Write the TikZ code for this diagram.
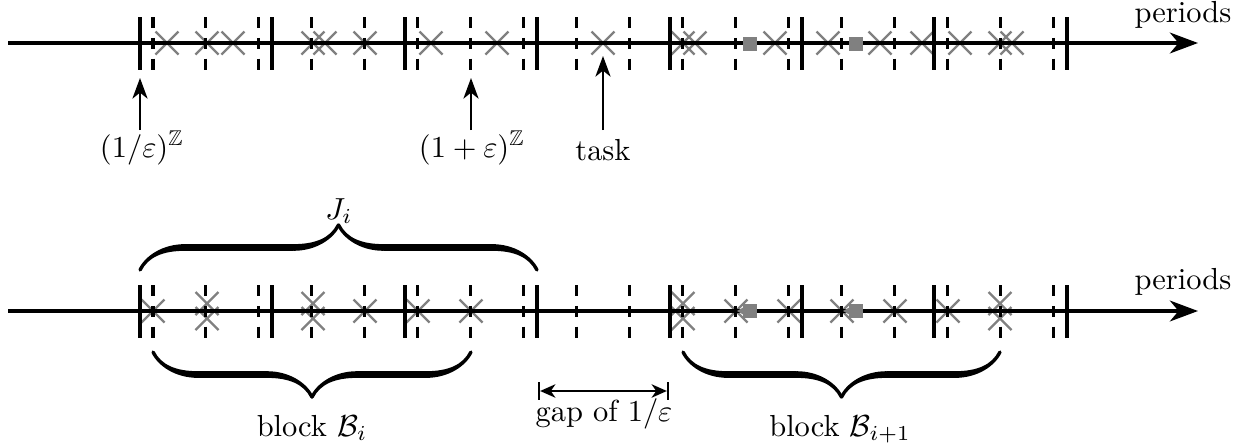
\documentclass[tikz,border=0pt]{standalone}
\usepackage{amssymb}
\usetikzlibrary{arrows.meta,decorations.pathreplacing,calligraphy}
\definecolor{taskgray}{gray}{0.5}
\tikzset{
  taskx/.pic={\draw[taskmark] (-11.5,-11.5) -- (11.5,11.5) (-11.5,11.5) -- (11.5,-11.5);},
}
\begin{document}
\begin{tikzpicture}[x=0.3284pt,y=-0.3284pt,
  axisline/.style={line width=1.3pt,-{Stealth[length=9.2pt,width=6.8pt,inset=2.8pt]}},
  solidtick/.style={line width=1.3pt},
  dashtick/.style={line width=1pt,dash pattern=on 3.6pt off 3.25pt},
  taskmark/.style={draw=taskgray,line width=0.8pt},
  sqmark/.style={fill=taskgray},
  movearrow/.style={draw=taskgray,line width=1pt,-{Stealth[length=3.2pt,width=3.6pt,inset=0.8pt]}},
  labelarrow/.style={line width=0.7pt,-{Stealth[length=6.8pt,width=5pt,inset=2pt]}},
  gaparrow/.style={line width=0.7pt,|<->|,>={Stealth[length=5pt,width=4.4pt,inset=1.5pt]}},
  bracedeco/.style={decorate,decoration={calligraphic brace,amplitude=14.8pt},line width=2.2pt},
]
\useasboundingbox (0,0) rectangle (1246,443);

% ---------- top row ----------
\foreach \cx in {167,207,233,313,325,365,431,497,603,683,695,775,828,880,922,960,1000,1012}
  \pic at (\cx,43) {taskx};
\coordinate (topL) at (8,43);
\coordinate (topR) at (1198,43);
\draw[axisline] (topL) -- (topR);
\foreach \k in {0,...,7}
  \draw[solidtick] ({140+132.4*\k},17) -- ++(0,53);
\foreach \k in {0,...,17}
  \draw[dashtick] ({153+52.95*\k},17) -- ++(0,53);
\fill[sqmark] (742.5,36.5) rectangle (756.5,50.5);
\fill[sqmark] (848.5,36.5) rectangle (862.5,50.5);
\node[anchor=base] (perA) at (1183,22) {periods};

\node[anchor=base] (epsinv) at (142,157) {$(1/\varepsilon)^{\mathbb{Z}}$};
\node[anchor=base] (epsone) at (472,157) {$(1+\varepsilon)^{\mathbb{Z}}$};
\node[anchor=base] (tasklbl) at (603,160) {task};
\coordinate (s1) at (140,130); \coordinate (t1) at (140,78);
\coordinate (s2) at (471,130); \coordinate (t2) at (471,78);
\coordinate (s3) at (603,130); \coordinate (t3) at (603,56);
\draw[labelarrow] (s1) -- (t1);
\draw[labelarrow] (s2) -- (t2);
\draw[labelarrow] (s3) -- (t3);

% ---------- bottom row ----------
\foreach \cx in {153,365,418,471,736,789,842,895,948}
  \pic at (\cx,311) {taskx};
\foreach \cx in {207,313,683,1000} {
  \pic at (\cx,303.5) {taskx};
  \pic at (\cx,318.5) {taskx};
}
\coordinate (botL) at (8,311);
\coordinate (botR) at (1198,311);
\draw[axisline] (botL) -- (botR);
\foreach \k in {0,...,7}
  \draw[solidtick] ({140+132.4*\k},285) -- ++(0,53);
\foreach \k in {0,...,17}
  \draw[dashtick] ({153+52.95*\k},285) -- ++(0,53);
\coordinate (sqA) at (749.5,311); \coordinate (sqAt) at (737,311);
\coordinate (sqB) at (855.5,311); \coordinate (sqBt) at (843,311);
\draw[movearrow] (sqA) -- (sqAt);
\draw[movearrow] (sqB) -- (sqBt);
\fill[sqmark] (742.5,304) rectangle (756.5,318);
\fill[sqmark] (848.5,304) rectangle (862.5,318);
\node[anchor=base] (perB) at (1183,289) {periods};

% braces
\coordinate (jL) at (140,270); \coordinate (jR) at (537,270);
\draw[bracedeco] (jL) -- (jR);
\node[anchor=base] (Jlbl) at (339,219) {$J_i$};
\coordinate (bL) at (153,352); \coordinate (bR) at (471,352);
\draw[bracedeco] (bR) -- (bL);
\node[anchor=base] (blkA) at (312,436) {block $\mathcal{B}_i$};
\coordinate (cL) at (683,352); \coordinate (cR) at (1000,352);
\draw[bracedeco] (cR) -- (cL);
\node[anchor=base] (blkB) at (840,436) {block $\mathcal{B}_{i+1}$};

% gap
\coordinate (g1) at (538,391); \coordinate (g2) at (669,391);
\draw[gaparrow] (g1) -- (g2);
\node[anchor=base] (gaplbl) at (604,421) {gap of $1/\varepsilon$};
\end{tikzpicture}
\end{document}
